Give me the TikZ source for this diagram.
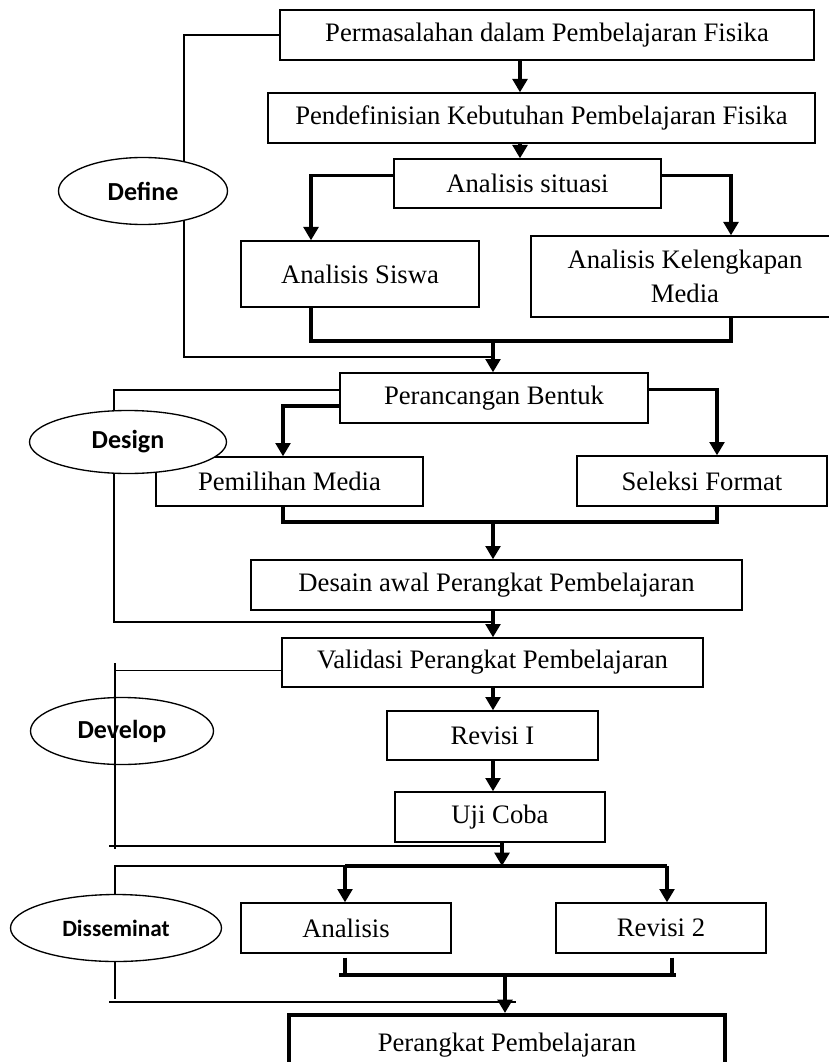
\documentclass[tikz,border=0pt]{standalone}
\usepackage{fontspec}
\setmainfont{Liberation Serif}
\newfontfamily\calibri{Carlito}
\usetikzlibrary{arrows.meta,shapes.geometric}

\begin{document}
\begin{tikzpicture}[x=0.75pt,y=-0.75pt,line join=miter,
  >={Triangle[width=11pt,length=10pt]},
  box/.style={draw,line width=1pt,inner sep=0pt,align=center,font=\fontsize{20}{25}\selectfont},
  tahap/.style={draw,ellipse,line width=1pt,fill=white,inner sep=0pt,font=\calibri\bfseries\fontsize{19.5}{23}\selectfont},
  arr/.style={->,line width=2.6pt},
  bar/.style={line width=3pt},
  garis/.style={line width=1.2pt}]
\useasboundingbox (0,0) rectangle (828,1062);

% kolom dan baris bantu
\coordinate (m1) at (520,0);
\coordinate (m2) at (493,0);
\coordinate (m3) at (502,0);
\coordinate (m4) at (505,0);
\coordinate (ka) at (311,0);
\coordinate (kb) at (731,0);
\coordinate (kc) at (283,0);
\coordinate (kd) at (717,0);
\coordinate (ke) at (345,0);
\coordinate (kf) at (667,0);
\coordinate (kh) at (672,0);
\coordinate (j1) at (0,341);
\coordinate (j2) at (0,522);
\coordinate (j3) at (0,866);
\coordinate (j4) at (0,975);

% define
\node[box,minimum width=400.5pt,minimum height=37.5pt] (perm) at (547,35) {Permasalahan dalam Pembelajaran Fisika};
\node[box,minimum width=410.25pt,minimum height=37.5pt] (pendef) at (541.5,118) {Pendefinisian Kebutuhan Pembelajaran Fisika};
\node[box,minimum width=200.25pt,minimum height=36.75pt] (sit) at (527.5,183.5) {Analisis situasi};
\node[box,minimum width=178.5pt,minimum height=49.5pt] (siswa) at (360,274) {Analisis Siswa};
\node[box,minimum width=231pt,minimum height=60.75pt] (lengkap) at (685,276.5) {Analisis Kelengkapan\\Media};

\draw[arr] (perm.south -| m1) -- (pendef.north -| m1);
\draw[arr] (pendef.south -| m1) -- (sit.north -| m1);
\draw[arr] ([yshift=6pt]sit.west) -| (siswa.north -| ka);
\draw[arr] ([yshift=6pt]sit.east) -| (lengkap.north -| kb);
\draw[bar] (siswa.south -| ka) -- (ka |- j1) -- (kb |- j1) -- (lengkap.south -| kb);
\draw[garis] (perm.west) -| (184,357) -- (493,357);

% design
\node[box,minimum width=231pt,minimum height=37.5pt] (rancang) at (494,398) {Perancangan Bentuk};
\node[box,minimum width=200.25pt,minimum height=36.75pt] (pilih) at (289.5,481.5) {Pemilihan Media};
\node[box,minimum width=187.5pt,minimum height=37.5pt] (seleksi) at (702,481) {Seleksi Format};
\node[box,minimum width=368.25pt,minimum height=37.5pt] (desain) at (496.5,585) {Desain awal Perangkat Pembelajaran};

\draw[arr] (m2 |- j1) -- (rancang.north -| m2);
\draw[arr] ([yshift=-6pt]rancang.west) -| (pilih.north -| kc);
\draw[arr] ([yshift=6.5pt]rancang.east) -| (seleksi.north -| kd);
\draw[bar] (pilih.south -| kc) -- (kc |- j2) -- (kd |- j2) -- (seleksi.south -| kd);
\draw[arr] (m2 |- j2) -- (desain.north -| m2);
\draw[garis] ([yshift=6pt]rancang.west) -| (114,622) -- (493,622);

% develop
\node[box,minimum width=315.75pt,minimum height=36.75pt] (valid) at (492.5,662.5) {Validasi Perangkat Pembelajaran};
\node[box,minimum width=158.25pt,minimum height=36.75pt] (revisi1) at (492.5,735.5) {Revisi I};
\node[box,minimum width=157.5pt,minimum height=37.5pt] (uji) at (500,817) {Uji Coba};

\draw[arr] (desain.south -| m2) -- (valid.north -| m2);
\draw[arr] (valid.south -| m2) -- (revisi1.north -| m2);
\draw[arr] (revisi1.south -| m2) -- (uji.north -| m2);
\draw[garis] ([yshift=-6pt]valid.west) -- ++(-167,0);
\draw[garis] (109,846) -- (502,846);
\draw[arr] (uji.south -| m3) -- (m3 |- j3);

% disseminate
\node[box,minimum width=157.5pt,minimum height=37.5pt] (analisis) at (346,928) {Analisis};
\node[box,minimum width=157.5pt,minimum height=37.5pt] (revisi2) at (661,928) {Revisi 2};
\node[box,line width=3pt,minimum width=327pt,minimum height=45pt] (hasil) at (507,1045) {Perangkat Pembelajaran};

\draw[garis] (ke |- j3) -- (115,866) -- (115,999);
\draw[bar] (ke |- j3) -- (kf |- j3);
\draw[arr] (ke |- j3) -- (analisis.north -| ke);
\draw[arr] (kf |- j3) -- (revisi2.north -| kf);
\draw[bar] ([yshift=-3pt]analisis.south -| ke) -- (ke |- j4);
\draw[bar] ([yshift=-3pt]revisi2.south -| kh) -- (kh |- j4);
\draw[bar] (339,975) -- (676,975);
\draw[arr] (m4 |- j4) -- (hasil.north -| m4);
\draw[garis] (109,1002) -- (516,1002);

% tahap
\node[tahap,minimum width=126.75pt,minimum height=50.25pt] (define) at (143,191) {Define};
\node[tahap,minimum width=147.75pt,minimum height=47.25pt] (design) at (128,442) {Design};
\node[tahap,fill=none,minimum width=137.25pt,minimum height=50.25pt] (develop) at (122,731) {Develop};
\draw[garis] (115,663) -- (115,849);
\node[tahap,minimum width=158.25pt,minimum height=50.25pt,font=\calibri\bfseries\fontsize{17.5}{21}\selectfont] (dissem) at (116,928) {Disseminat};
\end{tikzpicture}
\end{document}
